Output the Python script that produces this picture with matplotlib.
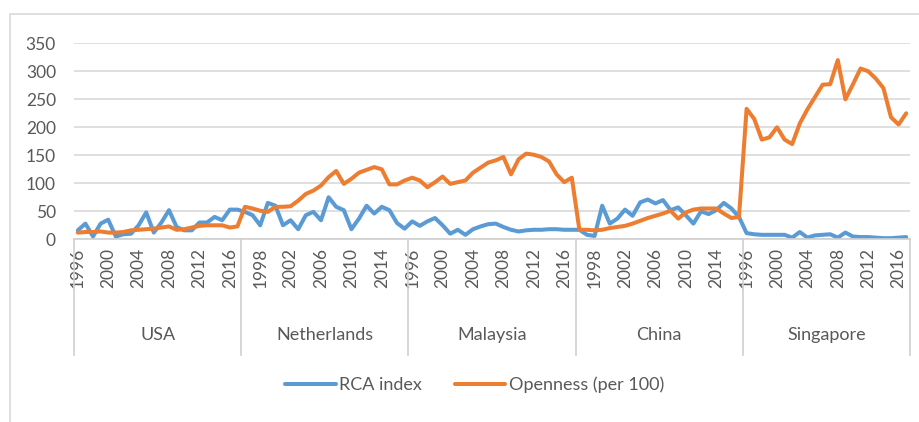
import numpy as np
import matplotlib
matplotlib.use("Agg")
import matplotlib.pyplot as plt
import matplotlib.transforms as mtransforms
from matplotlib.patches import Rectangle

plt.rcParams['font.family'] = ['Lato', 'DejaVu Sans']

# data: 1996-2017 for each country
countries = ['USA', 'Netherlands', 'Malaysia', 'China', 'Singapore']
years = list(range(1996, 2018))

rca_usa = [16, 28, 5, 28, 35, 5, 9, 10, 25, 48, 12, 30, 52, 22, 16, 16, 30, 30, 40, 34, 53, 53]
rca_nld = [49, 43, 25, 65, 60, 25, 34, 18, 43, 49, 34, 75, 58, 52, 18, 37, 60, 46, 58, 52, 29, 19]
rca_mys = [32, 24, 32, 38, 25, 10, 17, 8, 18, 23, 27, 28, 22, 17, 14, 16, 17, 17, 18, 18, 17, 17]
rca_chn = [17, 8, 6, 60, 28, 37, 53, 42, 66, 71, 64, 70, 52, 57, 43, 28, 50, 45, 52, 65, 55, 40]
rca_sgp = [11, 9, 8, 8, 8, 8, 3, 13, 3, 7, 8, 9, 3, 12, 5, 4, 4, 3, 2, 2, 3, 4]

open_usa = [12, 13, 13, 14, 12, 12, 13, 16, 17, 18, 19, 21, 23, 17, 18, 21, 24, 25, 25, 25, 21, 23]
open_nld = [58, 55, 51, 49, 58, 58, 59, 69, 81, 87, 96, 111, 122, 99, 108, 119, 124, 129, 125, 98, 98, 105]
open_mys = [110, 105, 93, 102, 112, 99, 102, 105, 119, 128, 137, 141, 147, 116, 143, 153, 151, 147, 139, 116, 102, 110]
open_chn = [17, 17, 16, 17, 20, 22, 24, 28, 33, 38, 42, 46, 51, 37, 48, 53, 55, 55, 55, 46, 38, 40]
open_sgp = [233, 215, 178, 182, 200, 178, 170, 207, 232, 254, 276, 277, 320, 250, 277, 305, 300, 287, 270, 218, 205, 225]

rca = np.concatenate([rca_usa, rca_nld, rca_mys, rca_chn, rca_sgp])
openness = np.concatenate([open_usa, open_nld, open_mys, open_chn, open_sgp])

n = len(years)
x = np.arange(len(rca)) + 0.5

fig = plt.figure(figsize=(9.2, 4.22), dpi=100)
ax = fig.add_axes([74 / 920, 1 - 239.3 / 422, (910 - 74) / 920, (239.3 - 43.3) / 422])

blue = '#5B9BD5'
orange = '#ED7D31'
ax.plot(x, rca, color=blue, lw=2.9, label='RCA index', solid_joinstyle='round', solid_capstyle='round')
ax.plot(x, openness, color=orange, lw=2.9, label='Openness (per 100)', solid_joinstyle='round', solid_capstyle='round')

ax.set_xlim(0, len(rca))
ax.set_ylim(0, 350)
ax.set_yticks(range(0, 351, 50))
ax.grid(axis='y', color='#d9d9d9', lw=1.2)
ax.set_axisbelow(True)
for s in ['top', 'right', 'left']:
    ax.spines[s].set_visible(False)
ax.spines['bottom'].set_color('#d0d0d0')
ax.spines['bottom'].set_linewidth(1.2)

ax.tick_params(axis='y', length=0, pad=13, labelsize=12.5, labelcolor='#595959')

# year ticks every 4 categories
tick_idx = list(range(0, len(rca), 4))
ax.set_xticks([i + 0.5 for i in tick_idx])
ax.set_xticklabels([str(years[i % n]) for i in tick_idx], rotation=90, va='top', ha='center')
ax.tick_params(axis='x', length=0, pad=6, labelsize=12.5, labelcolor='#595959')

# group separators and labels
trans = mtransforms.blended_transform_factory(ax.transData, ax.transAxes)
for k in range(len(countries) + 1):
    ax.plot([k * n, k * n], [0, -0.59], transform=trans, color='#d0d0d0', lw=1.2, clip_on=False)
for k, c in enumerate(countries):
    ax.text(k * n + n / 2, -0.49, c, transform=trans, ha='center', va='center',
            fontsize=13, color='#595959')

fig.legend(loc='center', bbox_to_anchor=(0.516, 1 - 385 / 422), ncol=2, frameon=False,
           fontsize=13, handlelength=2.8, columnspacing=1.8, handletextpad=0.2,
           labelcolor='#595959')

# chart area border
fig.patches.append(Rectangle((10.5 / 920, -0.1), 1.2, 1 - 14 / 422 + 0.1, transform=fig.transFigure,
                             fill=False, edgecolor='#d9d9d9', lw=1.2))

fig.savefig('out.png', dpi=100)
